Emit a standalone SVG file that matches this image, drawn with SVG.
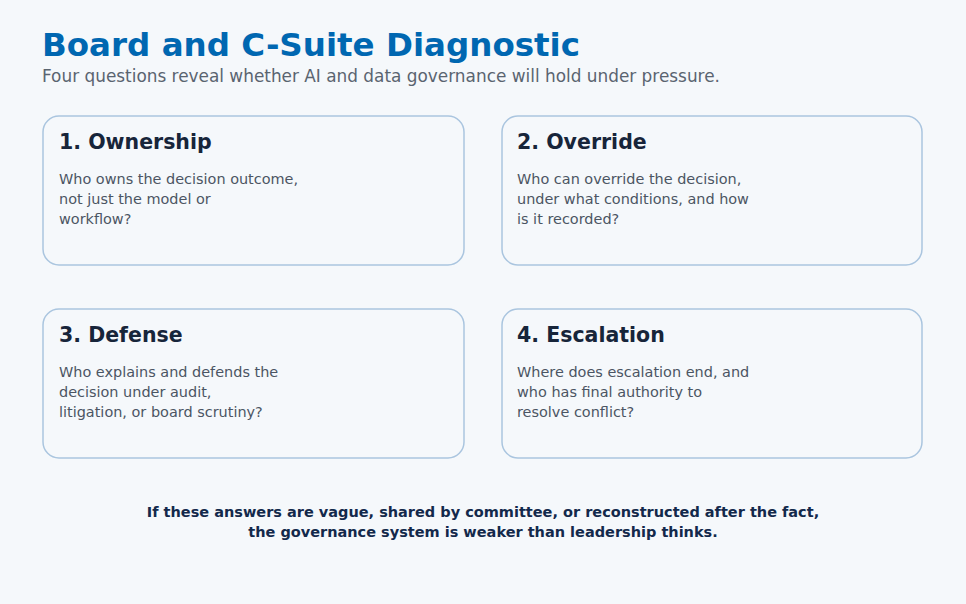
<svg xmlns="http://www.w3.org/2000/svg" width="966" height="604" viewBox="0 0 966 604">
<style>
.bg{fill:#f5f8fb}
.card{fill:#f5f8fb;stroke:#aac5df;stroke-width:1.5}
.h{font-family:"DejaVu Sans",sans-serif;font-weight:bold;font-size:20.5px;fill:#17253a}
.b{font-family:"DejaVu Sans",sans-serif;font-size:14.45px;fill:#4b5563}
.f{font-family:"DejaVu Sans",sans-serif;font-weight:bold;font-size:14.5px;fill:#13294b;text-anchor:middle}
</style>
<rect class="bg" x="0" y="0" width="966" height="604"/>
<text x="42" y="56" font-family="'DejaVu Sans',sans-serif" font-weight="bold" font-size="32.5" fill="#0067b1">Board and C-Suite Diagnostic</text>
<text x="42" y="82" font-family="'DejaVu Sans',sans-serif" font-size="16.9" fill="#5a6470">Four questions reveal whether AI and data governance will hold under pressure.</text>
<g id="card1">
<rect class="card" x="43" y="116" width="421" height="149" rx="16"/>
<text class="h" x="59" y="149">1. Ownership</text>
<text class="b" x="59" y="184">Who owns the decision outcome,</text>
<text class="b" x="59" y="204">not just the model or</text>
<text class="b" x="59" y="224">workflow?</text>
</g>
<g id="card2">
<rect class="card" x="502" y="116" width="420" height="149" rx="16"/>
<text class="h" x="517" y="149">2. Override</text>
<text class="b" x="517" y="184">Who can override the decision,</text>
<text class="b" x="517" y="204">under what conditions, and how</text>
<text class="b" x="517" y="224">is it recorded?</text>
</g>
<g id="card3">
<rect class="card" x="43" y="309" width="421" height="149" rx="16"/>
<text class="h" x="59" y="342">3. Defense</text>
<text class="b" x="59" y="377">Who explains and defends the</text>
<text class="b" x="59" y="397">decision under audit,</text>
<text class="b" x="59" y="417">litigation, or board scrutiny?</text>
</g>
<g id="card4">
<rect class="card" x="502" y="309" width="420" height="149" rx="16"/>
<text class="h" x="517" y="342">4. Escalation</text>
<text class="b" x="517" y="377">Where does escalation end, and</text>
<text class="b" x="517" y="397">who has final authority to</text>
<text class="b" x="517" y="417">resolve conflict?</text>
</g>
<g id="footer">
<text class="f" x="483" y="517">If these answers are vague, shared by committee, or reconstructed after the fact,</text>
<text class="f" x="483" y="537">the governance system is weaker than leadership thinks.</text>
</g>
<g id="connectors"></g>
</svg>
